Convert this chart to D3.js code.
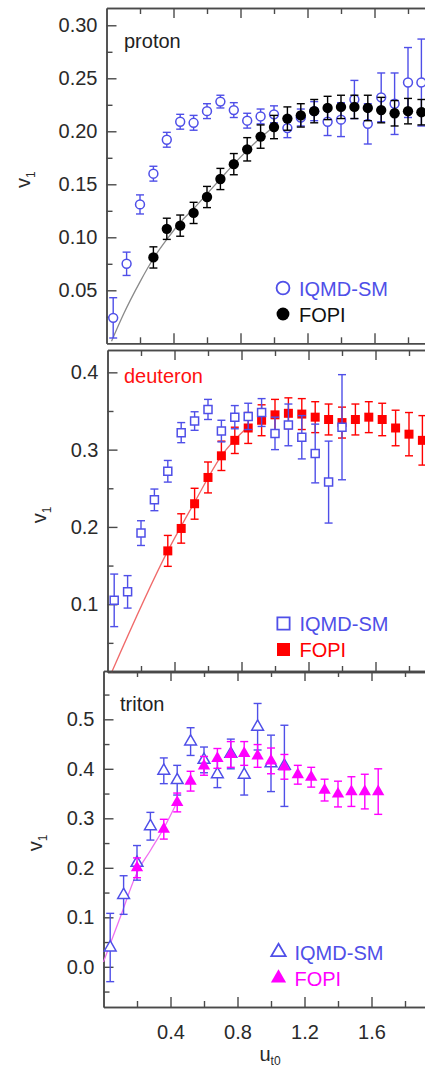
<!DOCTYPE html>
<html>
<head>
<meta charset="utf-8">
<script src="https://cdn.jsdelivr.net/npm/d3@7"></script>
<style>
  html, body { margin: 0; padding: 0; background: #fff; }
  svg { display: block; font-family: "Liberation Sans", Arial, sans-serif; }
</style>
</head>
<body>
<svg id="chart" width="425" height="1071"></svg>
<script>
// ---- proton ----
const protonSM_u   = [0.04,0.12,0.20,0.28,0.36,0.44,0.52,0.60,0.68,0.76,0.84,0.92,1.00,1.08,1.16,1.24,1.32,1.40,1.48,1.56,1.64,1.72,1.80,1.88];
const protonSM_v   = [0.024,0.075,0.131,0.160,0.192,0.209,0.208,0.219,0.228,0.220,0.210,0.214,0.216,0.203,0.213,0.219,0.209,0.211,0.230,0.207,0.232,0.226,0.246,0.246];
const protonSM_err = [0.019,0.011,0.009,0.007,0.007,0.007,0.007,0.007,0.006,0.007,0.007,0.007,0.008,0.009,0.008,0.009,0.013,0.016,0.018,0.019,0.023,0.029,0.033,0.041];
const protonFOPI_u   = [0.28,0.36,0.44,0.52,0.60,0.68,0.76,0.84,0.92,1.00,1.08,1.16,1.24,1.32,1.40,1.48,1.56,1.64,1.72,1.80,1.88];
const protonFOPI_v   = [0.081,0.108,0.111,0.123,0.138,0.155,0.169,0.183,0.195,0.204,0.212,0.215,0.219,0.222,0.223,0.223,0.222,0.220,0.217,0.219,0.218];
const protonFOPI_err = [0.010,0.010,0.010,0.010,0.010,0.010,0.010,0.011,0.011,0.011,0.011,0.011,0.011,0.011,0.011,0.011,0.012,0.012,0.012,0.012,0.012];
const protonFit_u = [0.03,0.10,0.20,0.28,0.36,0.44,0.52,0.60,0.68,0.76,0.84,0.92,0.98];
const protonFit_v = [0.002,0.027,0.058,0.080,0.098,0.114,0.127,0.141,0.155,0.169,0.182,0.194,0.202];

// ---- deuteron ----
const deuteronSM_u   = [0.04,0.12,0.20,0.28,0.36,0.44,0.52,0.60,0.68,0.76,0.84,0.92,1.00,1.08,1.16,1.24,1.32,1.40];
const deuteronSM_v   = [0.105,0.116,0.192,0.235,0.272,0.322,0.337,0.352,0.324,0.342,0.343,0.348,0.321,0.332,0.316,0.295,0.258,0.329];
const deuteronSM_err = [0.034,0.021,0.016,0.014,0.014,0.013,0.012,0.013,0.014,0.015,0.017,0.018,0.021,0.027,0.028,0.038,0.053,0.068];
const deuteronFOPI_u   = [0.36,0.44,0.52,0.60,0.68,0.76,0.84,0.92,1.00,1.08,1.16,1.24,1.32,1.40,1.48,1.56,1.64,1.72,1.80,1.88];
const deuteronFOPI_v   = [0.169,0.198,0.230,0.264,0.292,0.312,0.328,0.338,0.345,0.347,0.346,0.342,0.339,0.335,0.339,0.342,0.339,0.328,0.320,0.312];
const deuteronFOPI_err = [0.020,0.019,0.020,0.020,0.019,0.017,0.020,0.020,0.020,0.020,0.020,0.020,0.020,0.020,0.020,0.020,0.021,0.023,0.028,0.032];
const deuteronFit_u = [0.025,0.36,0.52,0.68,0.84];
const deuteronFit_v = [0.012,0.169,0.232,0.292,0.330];

// ---- triton ----
const tritonSM_u   = [0.04,0.12,0.20,0.28,0.36,0.44,0.52,0.60,0.68,0.76,0.84,0.92,1.00,1.08];
const tritonSM_v   = [0.039,0.145,0.210,0.284,0.396,0.377,0.455,0.418,0.389,0.430,0.388,0.485,0.411,0.406];
const tritonSM_err = [0.069,0.039,0.035,0.028,0.026,0.030,0.028,0.026,0.027,0.030,0.041,0.047,0.057,0.082];
const tritonFOPI_u   = [0.20,0.36,0.44,0.52,0.60,0.68,0.76,0.84,0.92,1.00,1.08,1.16,1.24,1.32,1.40,1.48,1.56,1.64];
const tritonFOPI_v   = [0.200,0.278,0.332,0.375,0.406,0.421,0.429,0.431,0.426,0.416,0.404,0.388,0.383,0.357,0.349,0.354,0.354,0.354];
const tritonFOPI_err = [0.020,0.020,0.019,0.020,0.019,0.020,0.026,0.024,0.023,0.026,0.025,0.019,0.020,0.022,0.026,0.030,0.035,0.046];
const tritonFit_u = [0.0,0.10,0.20,0.28,0.36,0.44];
const tritonFit_v = [0.010,0.100,0.190,0.235,0.280,0.333];

// axis ticks
const xMajor = [0.4,0.8,1.2,1.6];
const xMinor = [0.2,0.6,1.0,1.4,1.8];
const protonMajor = [0.05,0.10,0.15,0.20,0.25,0.30];
const protonMinor = [0.025,0.075,0.125,0.175,0.225,0.275];
const deuteronMajor = [0.1,0.2,0.3,0.4];
const deuteronMinor = [0.05,0.15,0.25,0.35];
const tritonMajor = [0.0,0.1,0.2,0.3,0.4,0.5];
const tritonMinor = [-0.05,0.05,0.15,0.25,0.35,0.45,0.55];

const BLUE = "#4f4fe8";
const FONT = 20;

const zip = (u, v, e) => u.map((d, i) => ({u: d, v: v[i], e: e ? e[i] : 0}));

const panels = [
  {
    name: "proton", nameColor: "#222",
    left: 106.5, top: 8, bottom: 343.3, yDomain: [0, 0.3163],
    major: protonMajor, minor: protonMinor, fmt: d3.format(".2f"),
    sm: zip(protonSM_u, protonSM_v, protonSM_err),
    fopi: zip(protonFOPI_u, protonFOPI_v, protonFOPI_err),
    fit: zip(protonFit_u, protonFit_v),
    smShape: d3.symbolCircle, smSize: 62, fopiShape: d3.symbolCircle, fopiSize: 84,
    fopiColor: "#000", fitColor: "#8a8a8a", fopiOnTop: true,
    legend: {x: 283, y1: 288, y2: 314, smSize: 130, fopiSize: 130},
    ylab: 30, labelY: 48, labelX: 124
  },
  {
    name: "deuteron", nameColor: "#ff1010",
    left: 107.5, top: 350, bottom: 672, yDomain: [0.0123, 0.4289],
    major: deuteronMajor, minor: deuteronMinor, fmt: d3.format(".1f"),
    sm: zip(deuteronSM_u, deuteronSM_v, deuteronSM_err),
    fopi: zip(deuteronFOPI_u, deuteronFOPI_v, deuteronFOPI_err),
    fit: zip(deuteronFit_u, deuteronFit_v),
    smShape: d3.symbolSquare, smSize: 64, fopiShape: d3.symbolSquare, fopiSize: 81,
    fopiColor: "#ff0000", fitColor: "#f06a6a", fopiOnTop: false,
    legend: {x: 283.5, y1: 623.5, y2: 649.5, smSize: 150, fopiSize: 170},
    ylab: 46, labelY: 383, labelX: 124
  },
  {
    name: "triton", nameColor: "#222",
    left: 103.5, top: 671, bottom: 1007, yDomain: [-0.0812, 0.5976],
    major: tritonMajor, minor: tritonMinor, fmt: d3.format(".1f"),
    sm: zip(tritonSM_u, tritonSM_v, tritonSM_err),
    fopi: zip(tritonFOPI_u, tritonFOPI_v, tritonFOPI_err),
    fit: zip(tritonFit_u, tritonFit_v),
    smShape: d3.symbolTriangle, smSize: 60, fopiShape: d3.symbolTriangle, fopiSize: 66,
    fopiColor: "#ff00ff", fitColor: "#f070f0", fopiOnTop: true,
    legend: {x: 278.5, y1: 952, y2: 978, smSize: 90, fopiSize: 100},
    ylab: 42, labelY: 711, labelX: 120, xLabels: true
  }
];

const svg = d3.select("#chart");
svg.append("rect").attr("width", 425).attr("height", 1071).attr("fill", "#fff");

const AXIS = "#4a4a4a";
const TEXT = "#2a2a2a";
const PXU = 167.5; // pixels per unit of u_t0

panels.forEach(p => {
  const x = d3.scaleLinear().domain([0, 2.0]).range([p.left, p.left + 2.0 * PXU]);
  const y = d3.scaleLinear().domain(p.yDomain).range([p.bottom, p.top]);
  const g = svg.append("g");

  const style = sel => {
    sel.selectAll("path.domain").attr("stroke", AXIS).attr("stroke-width", 1.5);
    sel.selectAll(".tick line").attr("stroke", AXIS).attr("stroke-width", 1.4);
    sel.selectAll(".tick text").attr("fill", TEXT).style("font-size", FONT + "px")
      .style("font-family", '"Liberation Sans", Arial, sans-serif');
  };

  // left axis
  g.append("g").attr("transform", `translate(${p.left},0)`)
    .call(d3.axisLeft(y).tickValues(p.major).tickSize(-10).tickSizeOuter(0).tickPadding(9).tickFormat(p.fmt))
    .call(style);
  g.append("g").attr("transform", `translate(${p.left},0)`)
    .call(d3.axisLeft(y).tickValues(p.minor).tickSize(-6).tickSizeOuter(0).tickFormat(""))
    .call(style);

  // top axis
  g.append("g").attr("transform", `translate(0,${p.top})`)
    .call(d3.axisTop(x).tickValues(xMajor).tickSize(-10).tickSizeOuter(0).tickFormat(""))
    .call(style);
  g.append("g").attr("transform", `translate(0,${p.top})`)
    .call(d3.axisTop(x).tickValues(xMinor).tickSize(-6).tickSizeOuter(0).tickFormat(""))
    .call(style);

  // bottom axis
  g.append("g").attr("transform", `translate(0,${p.bottom})`)
    .call(d3.axisBottom(x).tickValues(xMajor).tickSize(-10).tickSizeOuter(0).tickPadding(18)
      .tickFormat(p.xLabels ? d3.format(".1f") : ""))
    .call(style);
  g.append("g").attr("transform", `translate(0,${p.bottom})`)
    .call(d3.axisBottom(x).tickValues(xMinor).tickSize(-6).tickSizeOuter(0).tickFormat(""))
    .call(style);

  // panel label
  g.append("text").attr("x", p.labelX).attr("y", p.labelY)
    .attr("fill", p.nameColor).style("font-size", FONT + "px").text(p.name);

  // y label v1
  const yl = g.append("text")
    .attr("transform", `translate(${p.ylab},${(p.top + p.bottom) / 2 + 4}) rotate(-90)`)
    .attr("text-anchor", "middle").attr("fill", TEXT).style("font-size", FONT + "px");
  yl.append("tspan").text("v");
  yl.append("tspan").attr("dy", 5).style("font-size", "12px").text("1");

  const plot = g.append("g");

  // fit line
  plot.append("path").datum(p.fit)
    .attr("fill", "none").attr("stroke", p.fitColor).attr("stroke-width", 1.3)
    .attr("d", d3.line().x(d => x(d.u)).y(d => y(d.v)).curve(d3.curveMonotoneX));

  const drawSeries = (data, color, shape, size, filled) => {
    const s = plot.append("g");
    const eb = s.selectAll("g.eb").data(data).join("g")
      .attr("stroke", color).attr("stroke-width", 1.4);
    eb.append("line").attr("x1", d => x(d.u)).attr("x2", d => x(d.u))
      .attr("y1", d => y(d.v - d.e)).attr("y2", d => y(d.v + d.e));
    eb.append("line").attr("x1", d => x(d.u) - 4).attr("x2", d => x(d.u) + 4)
      .attr("y1", d => y(d.v - d.e)).attr("y2", d => y(d.v - d.e));
    eb.append("line").attr("x1", d => x(d.u) - 4).attr("x2", d => x(d.u) + 4)
      .attr("y1", d => y(d.v + d.e)).attr("y2", d => y(d.v + d.e));
    s.selectAll("path.m").data(data).join("path")
      .attr("transform", d => `translate(${x(d.u)},${y(d.v)})`)
      .attr("d", d3.symbol().type(shape).size(size))
      .attr("fill", filled ? color : "#fff")
      .attr("stroke", color).attr("stroke-width", filled ? 0 : 1.5);
  };

  if (p.fopiOnTop) {
    drawSeries(p.sm, BLUE, p.smShape, p.smSize, false);
    drawSeries(p.fopi, p.fopiColor, p.fopiShape, p.fopiSize, true);
  } else {
    drawSeries(p.fopi, p.fopiColor, p.fopiShape, p.fopiSize, true);
    drawSeries(p.sm, BLUE, p.smShape, p.smSize, false);
  }

  // legend
  const L = p.legend;
  g.append("path").attr("transform", `translate(${L.x},${L.y1})`)
    .attr("d", d3.symbol().type(p.smShape).size(L.smSize))
    .attr("fill", "none").attr("stroke", BLUE).attr("stroke-width", 1.8);
  g.append("text").attr("x", L.x + 16).attr("y", L.y1 + 7.5)
    .attr("fill", BLUE).style("font-size", FONT + "px").text("IQMD-SM");
  g.append("path").attr("transform", `translate(${L.x},${L.y2})`)
    .attr("d", d3.symbol().type(p.fopiShape).size(L.fopiSize))
    .attr("fill", p.fopiColor);
  g.append("text").attr("x", L.x + 16).attr("y", L.y2 + 7.5)
    .attr("fill", p.fopiColor === "#000" ? "#111" : p.fopiColor)
    .style("font-size", FONT + "px").text("FOPI");

  if (p.xLabels) {
    const xl = g.append("text").attr("x", 270).attr("y", 1061)
      .attr("text-anchor", "middle").attr("fill", TEXT).style("font-size", FONT + "px");
    xl.append("tspan").text("u");
    xl.append("tspan").attr("dy", 4).style("font-size", "12px").text("t0");
  }
});
</script>
</body>
</html>
